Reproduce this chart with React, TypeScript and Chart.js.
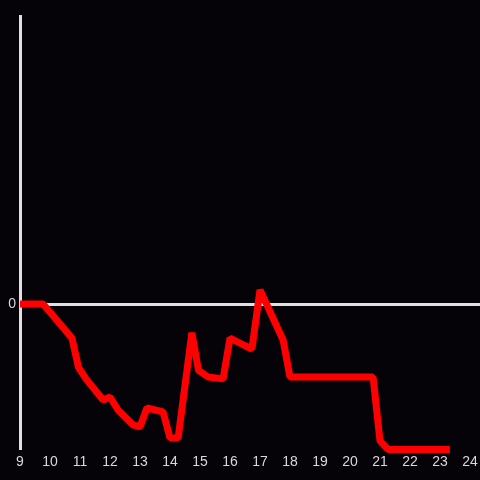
import React, { useEffect, useRef } from "react";
import { Chart, registerables } from "chart.js";

Chart.register(...registerables);

const hours = [9, 9.77, 10.73, 10.95, 11.2, 11.77, 12.0, 12.27, 12.77, 13.0, 13.23, 13.77, 14.0, 14.27, 14.73, 14.95, 15.27, 15.77, 16.0, 16.5, 16.73, 17.0, 17.77, 18.0, 20.77, 21.0, 21.27, 23.33];
const values = [0, 0, -2.36, -4.4, -5.2, -6.67, -6.46, -7.36, -8.4, -8.54, -7.22, -7.5, -9.3, -9.3, -2.0, -4.6, -5.07, -5.2, -2.36, -2.9, -3.13, 0.97, -2.5, -5.07, -5.07, -9.5, -10.1, -10.1];
const xTickLabels = [9, 10, 11, 12, 13, 14, 15, 16, 17, 18, 19, 20, 21, 22, 23, 24];
const yTickLabels = [0];

export default function App() {
  const ref = useRef<HTMLCanvasElement>(null);
  useEffect(() => {
    if (!ref.current) return;
    const chart = new Chart(ref.current, {
      type: "line",
      data: {
        datasets: [
          {
            data: hours.map((h, i) => ({ x: h, y: values[i] })),
            borderColor: "#ff0000",
            borderWidth: 7,
            borderJoinStyle: "bevel",
            pointRadius: 0,
            fill: false,
            tension: 0,
            clip: 10,
          },
        ],
      },
      options: {
        responsive: false,
        animation: false,
        layout: { padding: { top: 16, left: 0, right: 0, bottom: 0 } },
        plugins: { legend: { display: false }, tooltip: { enabled: false } },
        scales: {
          x: {
            type: "linear",
            min: 9,
            max: 24.333,
            afterBuildTicks: (axis: any) => {
              axis.ticks = xTickLabels.map((v) => ({ value: v }));
            },
            afterFit: (axis: any) => {
              axis.height = 32;
              axis.paddingLeft = 0;
              axis.paddingRight = 0;
            },
            grid: { display: false, drawTicks: false },
            border: { display: false },
            ticks: {
              color: "#d8d8d8",
              font: { size: 14, family: "'Liberation Sans', Arial, sans-serif" },
              padding: 6,
              maxRotation: 0,
              autoSkip: false,
            },
          },
          y: {
            type: "linear",
            min: -10,
            max: 20,
            afterBuildTicks: (axis: any) => {
              axis.ticks = yTickLabels.map((v) => ({ value: v }));
            },
            afterFit: (axis: any) => {
              axis.width = 20;
              axis.paddingTop = 0;
              axis.paddingBottom = 0;
            },
            grid: { color: "#e0e0e0", lineWidth: 3, drawTicks: false },
            border: { display: true, color: "#e0e0e0", width: 3 },
            ticks: {
              color: "#d8d8d8",
              font: { size: 14, family: "'Liberation Sans', Arial, sans-serif" },
              padding: 4,
            },
          },
        },
      },
    });
    return () => chart.destroy();
  }, []);
  return (
    <div style={{ position: "fixed", left: 0, top: 0, width: 480, height: 480, background: "#050307" }}>
      <canvas ref={ref} width={480} height={480} />
    </div>
  );
}
